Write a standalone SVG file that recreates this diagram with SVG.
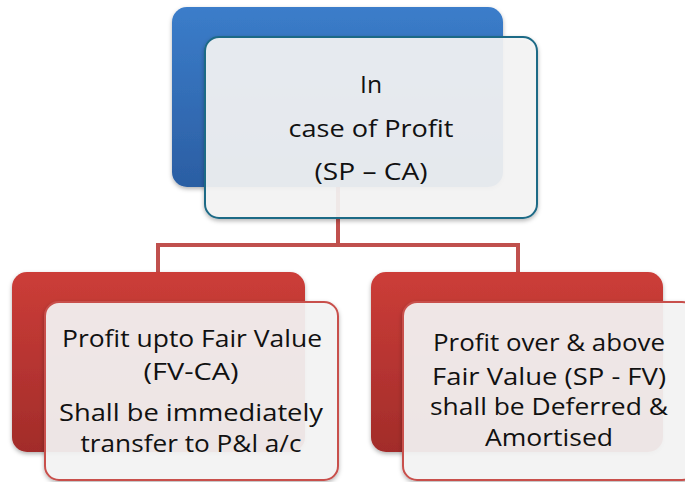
<svg xmlns="http://www.w3.org/2000/svg" width="685" height="482" viewBox="0 0 685 482">
  <defs>
    <linearGradient id="gBlue" x1="0" y1="0" x2="0" y2="1">
      <stop offset="0" stop-color="#3b7dca"/>
      <stop offset="1" stop-color="#2b5ea3"/>
    </linearGradient>
    <linearGradient id="gRed" x1="0" y1="0" x2="0" y2="1">
      <stop offset="0" stop-color="#cc3d38"/>
      <stop offset="1" stop-color="#a22c2a"/>
    </linearGradient>
    <filter id="sh" x="-10%" y="-10%" width="120%" height="125%">
      <feDropShadow dx="0" dy="2" stdDeviation="2" flood-color="#000" flood-opacity="0.3"/>
    </filter>
  </defs>
  <style>
    .back { filter: url(#sh); }
    .front { fill: #f5f5f5; fill-opacity: 0.91; stroke-width: 2; filter: url(#sh); }
    .frontBlue { stroke: #1e6a86; }
    .frontRed { stroke: #c8504c; }
    .conn { fill: none; stroke: #c0504d; stroke-width: 4; }
    text { font-family: "Open Sans", "Liberation Sans", Arial, sans-serif; font-size: 24px; fill: #111; text-anchor: middle; }
  </style>
  <rect width="685" height="482" fill="#ffffff"/>
  <g id="connectors">
    <path class="conn" d="M338 187 V245 M158 272 V245 H518 V272"/>
  </g>
  <g id="node-top">
    <rect class="back" x="172" y="7" width="331" height="180" rx="15" fill="url(#gBlue)"/>
    <rect class="front frontBlue" x="205" y="37" width="332" height="181" rx="14"/>
    <text x="371" y="93" textLength="22" lengthAdjust="spacingAndGlyphs">In</text>
    <text x="371" y="137" textLength="165" lengthAdjust="spacingAndGlyphs">case of Profit</text>
    <text x="371" y="180" textLength="113" lengthAdjust="spacingAndGlyphs">(SP – CA)</text>
  </g>
  <g id="node-left">
    <rect class="back" x="12" y="272" width="293" height="180" rx="15" fill="url(#gRed)"/>
    <rect class="front frontRed" x="45" y="302" width="293" height="178" rx="14"/>
    <text x="192" y="347" textLength="260" lengthAdjust="spacingAndGlyphs">Profit upto Fair Value</text>
    <text x="191" y="380" textLength="95" lengthAdjust="spacingAndGlyphs">(FV-CA)</text>
    <text x="191" y="421" textLength="264" lengthAdjust="spacingAndGlyphs">Shall be immediately</text>
    <text x="191" y="452" textLength="221" lengthAdjust="spacingAndGlyphs">transfer to P&amp;l a/c</text>
  </g>
  <g id="node-right">
    <rect class="back" x="371" y="272" width="292" height="180" rx="15" fill="url(#gRed)"/>
    <rect class="front frontRed" x="403" y="302" width="293" height="178" rx="14"/>
    <text x="549" y="351" textLength="232" lengthAdjust="spacingAndGlyphs">Profit over &amp; above</text>
    <text x="549" y="385" textLength="234" lengthAdjust="spacingAndGlyphs">Fair Value (SP - FV)</text>
    <text x="549" y="415" textLength="238" lengthAdjust="spacingAndGlyphs">shall be Deferred &amp;</text>
    <text x="549" y="446" textLength="128" lengthAdjust="spacingAndGlyphs">Amortised</text>
  </g>
</svg>
